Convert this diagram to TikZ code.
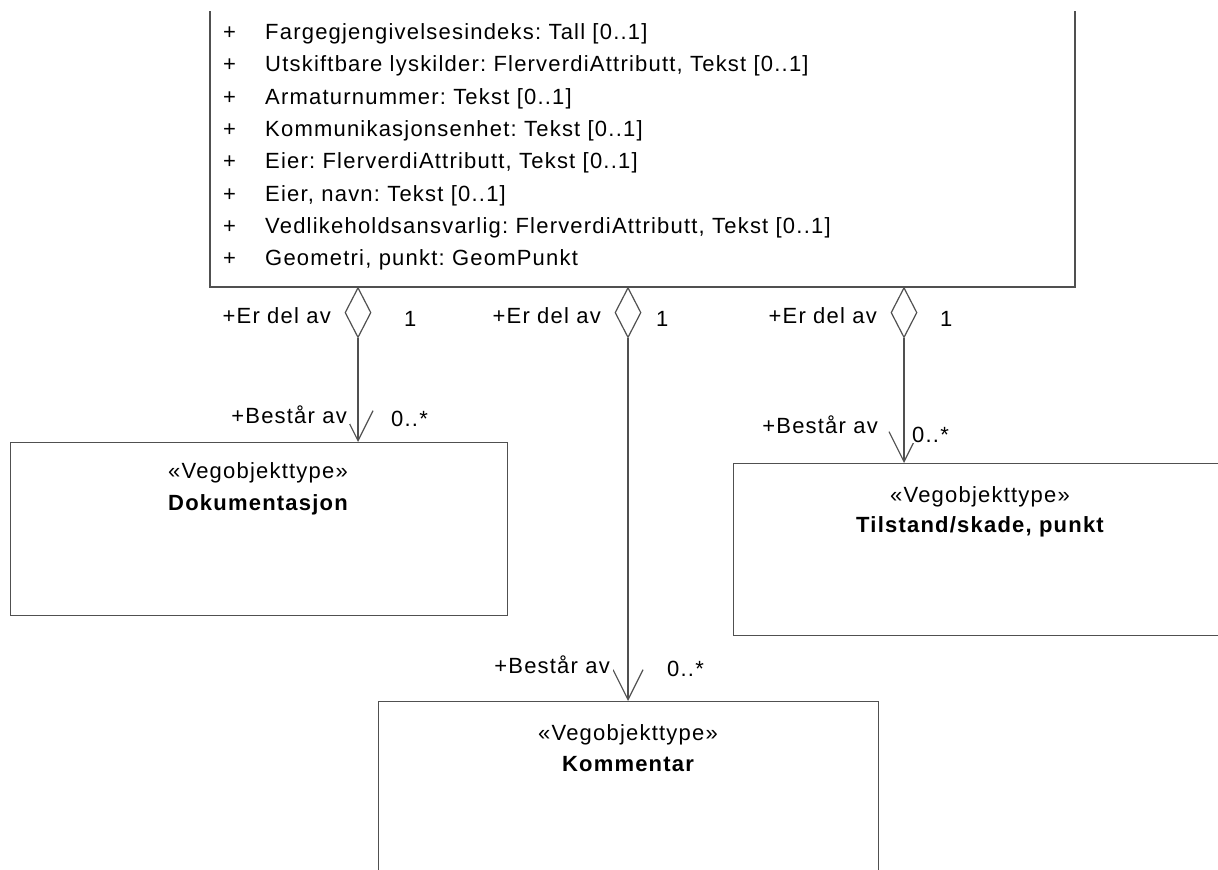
\documentclass[tikz,border=0pt]{standalone}
\usepackage{fontspec}
\setmainfont{Liberation Sans}[LetterSpace=5.5]
\usetikzlibrary{shapes.geometric,arrows.meta}

\definecolor{linecol}{HTML}{505050}
\newcommand{\umlfont}{\fontsize{22pt}{26pt}\selectfont\frenchspacing}

\tikzset{
    umlbox/.style={draw=linecol, line width=1.3pt, inner sep=0pt},
    agg/.style={diamond, draw=linecol, line width=1.2pt, minimum width=26pt,
        minimum height=50pt, inner sep=0pt, anchor=north},
    assoc/.style={draw=linecol, line width=1.2pt,
        -{Straight Barb[length=30pt,width=30pt,line width=1.2pt]}},
    lbl/.style={inner sep=0pt, font=\umlfont},
    rolelbl/.style={lbl, fill=white, inner xsep=3pt, inner ysep=1pt},
}

\begin{document}
\begin{tikzpicture}[x=1pt,y=-1pt]

    \useasboundingbox (0,0) rectangle (1218,870);
    \clip (0,0) rectangle (1218,870);

    % Main class (top cut off)
    \coordinate (armtl) at (210,11);
    \coordinate (armbr) at (1075,287);
    \draw[linecol, line width=1.3pt] (armtl) -- (armtl |- armbr) -- (armbr) -- (armbr |- armtl);

    % Attributes
    \foreach \i/\attr in {0/{Fargegjengivelsesindeks: Tall [0..1]},
        1/{Utskiftbare lyskilder: FlerverdiAttributt, Tekst [0..1]},
        2/{Armaturnummer: Tekst [0..1]},
        3/{Kommunikasjonsenhet: Tekst [0..1]},
        4/{Eier: FlerverdiAttributt, Tekst [0..1]},
        5/{Eier, navn: Tekst [0..1]},
        6/{Vedlikeholdsansvarlig: FlerverdiAttributt, Tekst [0..1]},
        7/{Geometri, punkt: GeomPunkt}} {
        \node[lbl, anchor=base west] (plus\i) at (223,{39.5+32.3*\i}) {+};
        \node[lbl, anchor=base west] (attr\i) at (265,{39.5+32.3*\i}) {\attr};
    }

    % Target classes
    \node[umlbox, anchor=north west, minimum width=497pt, minimum height=173pt] (dok) at (10,442) {};
    \node[lbl, anchor=base] (dokster) at (258,478) {«Vegobjekttype»};
    \node[lbl, anchor=base, font=\umlfont\bfseries] (dokname) at (258,510) {Dokumentasjon};

    \node[umlbox, anchor=north west, minimum width=500pt, minimum height=172pt] (skade) at (733,463) {};
    \node[lbl, anchor=base] (skadester) at (980,502) {«Vegobjekttype»};
    \node[lbl, anchor=base, font=\umlfont\bfseries] (skadename) at (980,532) {Tilstand/skade, punkt};

    \node[umlbox, anchor=north west, minimum width=500pt, minimum height=200pt] (komm) at (378,701) {};
    \node[lbl, anchor=base] (kommster) at (628,740) {«Vegobjekttype»};
    \node[lbl, anchor=base, font=\umlfont\bfseries] (kommname) at (628,771) {Kommentar};

    % Aggregations
    \node[agg] (d1) at (358,287) {};
    \node[agg] (d2) at (628,287) {};
    \node[agg] (d3) at (904,287) {};

    \draw[assoc] (d1.south) -- (d1.south |- dok.north);
    \draw[assoc] (d2.south) -- (d2.south |- komm.north);
    \draw[assoc] (d3.south) -- (d3.south |- skade.north);

    % Role names and multiplicities
    \node[rolelbl, anchor=base east] (r1a) at (334,323) {+Er del av};
    \node[rolelbl, anchor=base west] (m1a) at (401,326) {1};
    \node[rolelbl, anchor=base east] (r1b) at (350,423) {+Består av};
    \node[rolelbl, anchor=base west] (m1b) at (388,426) {0..*};

    \node[rolelbl, anchor=base east] (r2a) at (604,323) {+Er del av};
    \node[rolelbl, anchor=base west] (m2a) at (653,326) {1};
    \node[rolelbl, anchor=base east] (r2b) at (613,673) {+Består av};
    \node[rolelbl, anchor=base west] (m2b) at (664,676) {0..*};

    \node[rolelbl, anchor=base east] (r3a) at (880,323) {+Er del av};
    \node[rolelbl, anchor=base west] (m3a) at (937,326) {1};
    \node[rolelbl, anchor=base east] (r3b) at (881,433) {+Består av};
    \node[rolelbl, anchor=base west] (m3b) at (909,442) {0..*};

\end{tikzpicture}
\end{document}
